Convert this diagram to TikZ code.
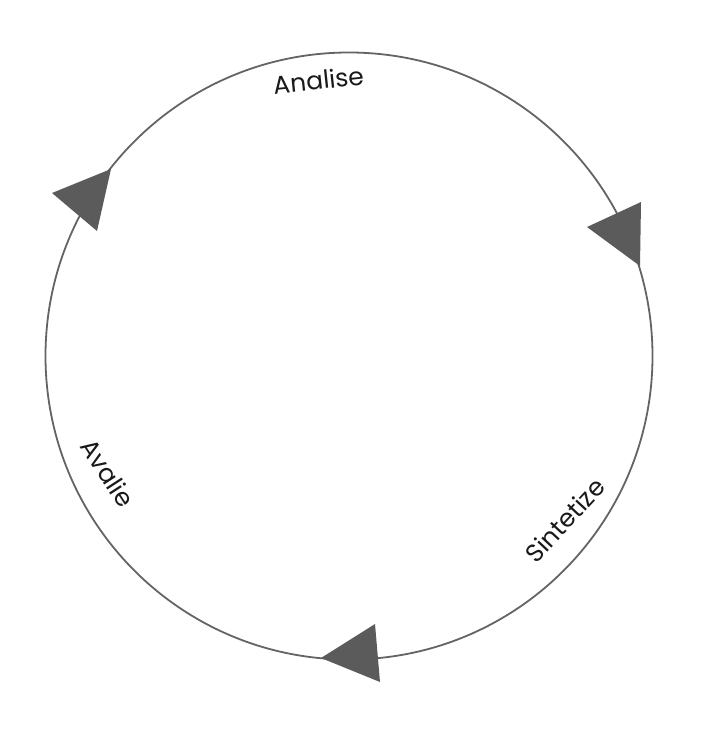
\documentclass[tikz,border=0pt]{standalone}
\usepackage{fontspec}
\setmainfont{Poppins}
\begin{document}
\begin{tikzpicture}[x=1pt,y=-1pt,
  ring/.style={draw=ringgray,line width=1.8pt},
  tri/.style={fill=trigray,draw=none},
  lbl/.style={font=\fontsize{25}{28}\selectfont,text=black!90,inner sep=0pt}]
\definecolor{ringgray}{HTML}{646464}
\definecolor{trigray}{HTML}{5B5B5B}
\useasboundingbox[fill=white] (0,0) rectangle (705,735);
\coordinate (c) at (349,356);
\draw[ring] (c) circle[radius=303.5];
% arrowheads
\fill[tri] (52,193) -- (111,169) -- (97,231) -- cycle;
\fill[tri] (587,227) -- (641,202) -- (640,266) -- cycle;
\fill[tri] (321,658) -- (375,624) -- (380,682) -- cycle;
% labels
\node[lbl,rotate=6] (analise) at (319,80) {Analise};
\node[lbl,rotate=47] (sint) at (565,520) {Sintetize};
\node[lbl,rotate=-57] (aval) at (108,473) {Avalie};
\end{tikzpicture}
\end{document}
